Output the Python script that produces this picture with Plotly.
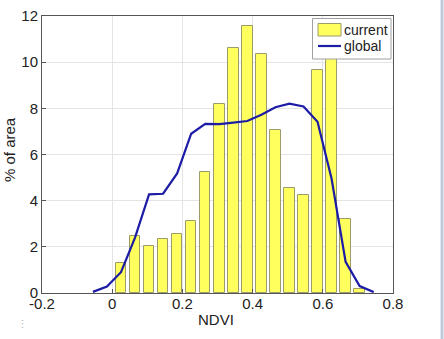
import plotly.graph_objects as go

bin_centers = [0.025, 0.065, 0.105, 0.145, 0.185, 0.225, 0.265, 0.305, 0.345,
               0.385, 0.425, 0.465, 0.505, 0.545, 0.585, 0.625, 0.665, 0.705]
current_pct = [1.3, 2.45, 2.05, 2.32, 2.55, 3.12, 5.23, 8.2, 10.6,
               11.55, 10.35, 7.05, 4.55, 4.25, 9.65, 10.5, 3.22, 0.17]

global_x = [-0.055, -0.015, 0.025, 0.065, 0.105, 0.145, 0.185, 0.225, 0.265, 0.305,
            0.345, 0.385, 0.425, 0.465, 0.505, 0.545, 0.585, 0.625, 0.665, 0.705, 0.745]
global_pct = [0.05, 0.28, 0.9, 2.4, 4.27, 4.3, 5.18, 6.9, 7.33, 7.32,
              7.38, 7.45, 7.72, 8.05, 8.2, 8.08, 7.42, 4.95, 1.35, 0.3, 0.04]

x_ticks = [-0.2, 0, 0.2, 0.4, 0.6, 0.8]
x_tick_labels = ["-0.2", "0", "0.2", "0.4", "0.6", "0.8"]
y_ticks = [0, 2, 4, 6, 8, 10, 12]
y_tick_labels = ["0", "2", "4", "6", "8", "10", "12"]
series_names = ["current", "global"]
x_title = "NDVI"
y_title = "% of area"

BAR_FILL = "#ffff5e"
BAR_EDGE = "#9c9c6a"
LINE_COLOR = "#1c1ca6"
font = "Liberation Sans, Arial, sans-serif"

W, H = 444, 339
L, R, T, B = 42, 51, 16, 46
PW, PH = W - L - R, H - T - B


def px(x):
    return (x - L) / PW


def py(y):
    return (H - B - y) / PH


fig = go.Figure()
fig.add_trace(go.Bar(
    x=bin_centers, y=current_pct, name=series_names[0], width=0.03,
    marker=dict(color=BAR_FILL, line=dict(color=BAR_EDGE, width=1)),
    showlegend=False,
))
fig.add_trace(go.Scatter(
    x=global_x, y=global_pct, name=series_names[1], mode="lines",
    line=dict(color=LINE_COLOR, width=2.2), showlegend=False,
))

fig.update_layout(
    width=W, height=H,
    margin=dict(l=L, r=R, t=T, b=B, autoexpand=False),
    paper_bgcolor="white", plot_bgcolor="white",
    font=dict(family=font, size=15, color="#222222"),
    showlegend=False,
    xaxis=dict(
        range=[-0.2, 0.8], tickvals=x_ticks, ticktext=x_tick_labels,
        showgrid=True, gridcolor="#e4e4e4", gridwidth=1, automargin=False,
        zeroline=False, showline=True, linecolor="#555555", linewidth=1, mirror=True,
        ticks="inside", ticklen=4, tickcolor="#555555", ticklabelstandoff=-3,
    ),
    yaxis=dict(
        range=[0, 12], tickvals=y_ticks, ticktext=y_tick_labels,
        showgrid=True, gridcolor="#e4e4e4", gridwidth=1, automargin=False,
        zeroline=False, showline=True, linecolor="#555555", linewidth=1, mirror=True,
        ticks="inside", ticklen=4, tickcolor="#555555",
    ),
    bargap=0,
)

# axis titles
fig.add_annotation(xref="paper", yref="paper", x=px(216), y=py(319),
                   text=x_title, showarrow=False, xanchor="center", yanchor="middle",
                   font=dict(size=15, color="#222222"))
fig.add_annotation(xref="paper", yref="paper", x=px(9), y=py(150),
                   text=y_title, showarrow=False, textangle=-90,
                   xanchor="center", yanchor="middle",
                   font=dict(size=15, color="#222222"))

# legend box
fig.add_shape(type="rect", xref="paper", yref="paper",
              x0=px(312.5), x1=px(391), y0=py(59), y1=py(18.5),
              fillcolor="white", line=dict(color="#a0a0a0", width=1), layer="above")
fig.add_shape(type="rect", xref="paper", yref="paper",
              x0=px(318), x1=px(341), y0=py(36), y1=py(23.5),
              fillcolor=BAR_FILL, line=dict(color=BAR_EDGE, width=1), layer="above")
fig.add_shape(type="line", xref="paper", yref="paper",
              x0=px(318), x1=px(341), y0=py(46), y1=py(46),
              line=dict(color=LINE_COLOR, width=2.2), layer="above")
for name, yc in zip(series_names, [30, 46]):
    fig.add_annotation(xref="paper", yref="paper", x=px(342), y=py(yc),
                       text=name, showarrow=False, xanchor="left", yanchor="middle",
                       font=dict(size=14, color="#222222"))

# window edge strip at the right
fig.add_shape(type="line", xref="paper", yref="paper",
              x0=px(442), x1=px(442), y0=py(H), y1=py(0),
              line=dict(color="#c2cbdd", width=3), layer="above")
fig.add_annotation(xref="paper", yref="paper", x=px(15), y=py(332),
                   text="⋮", showarrow=False, font=dict(size=11, color="#b0b0b0"))

fig.write_html("out.html", config={"displayModeBar": False},
               post_script="document.body.style.margin='0';document.body.style.padding='0';")
